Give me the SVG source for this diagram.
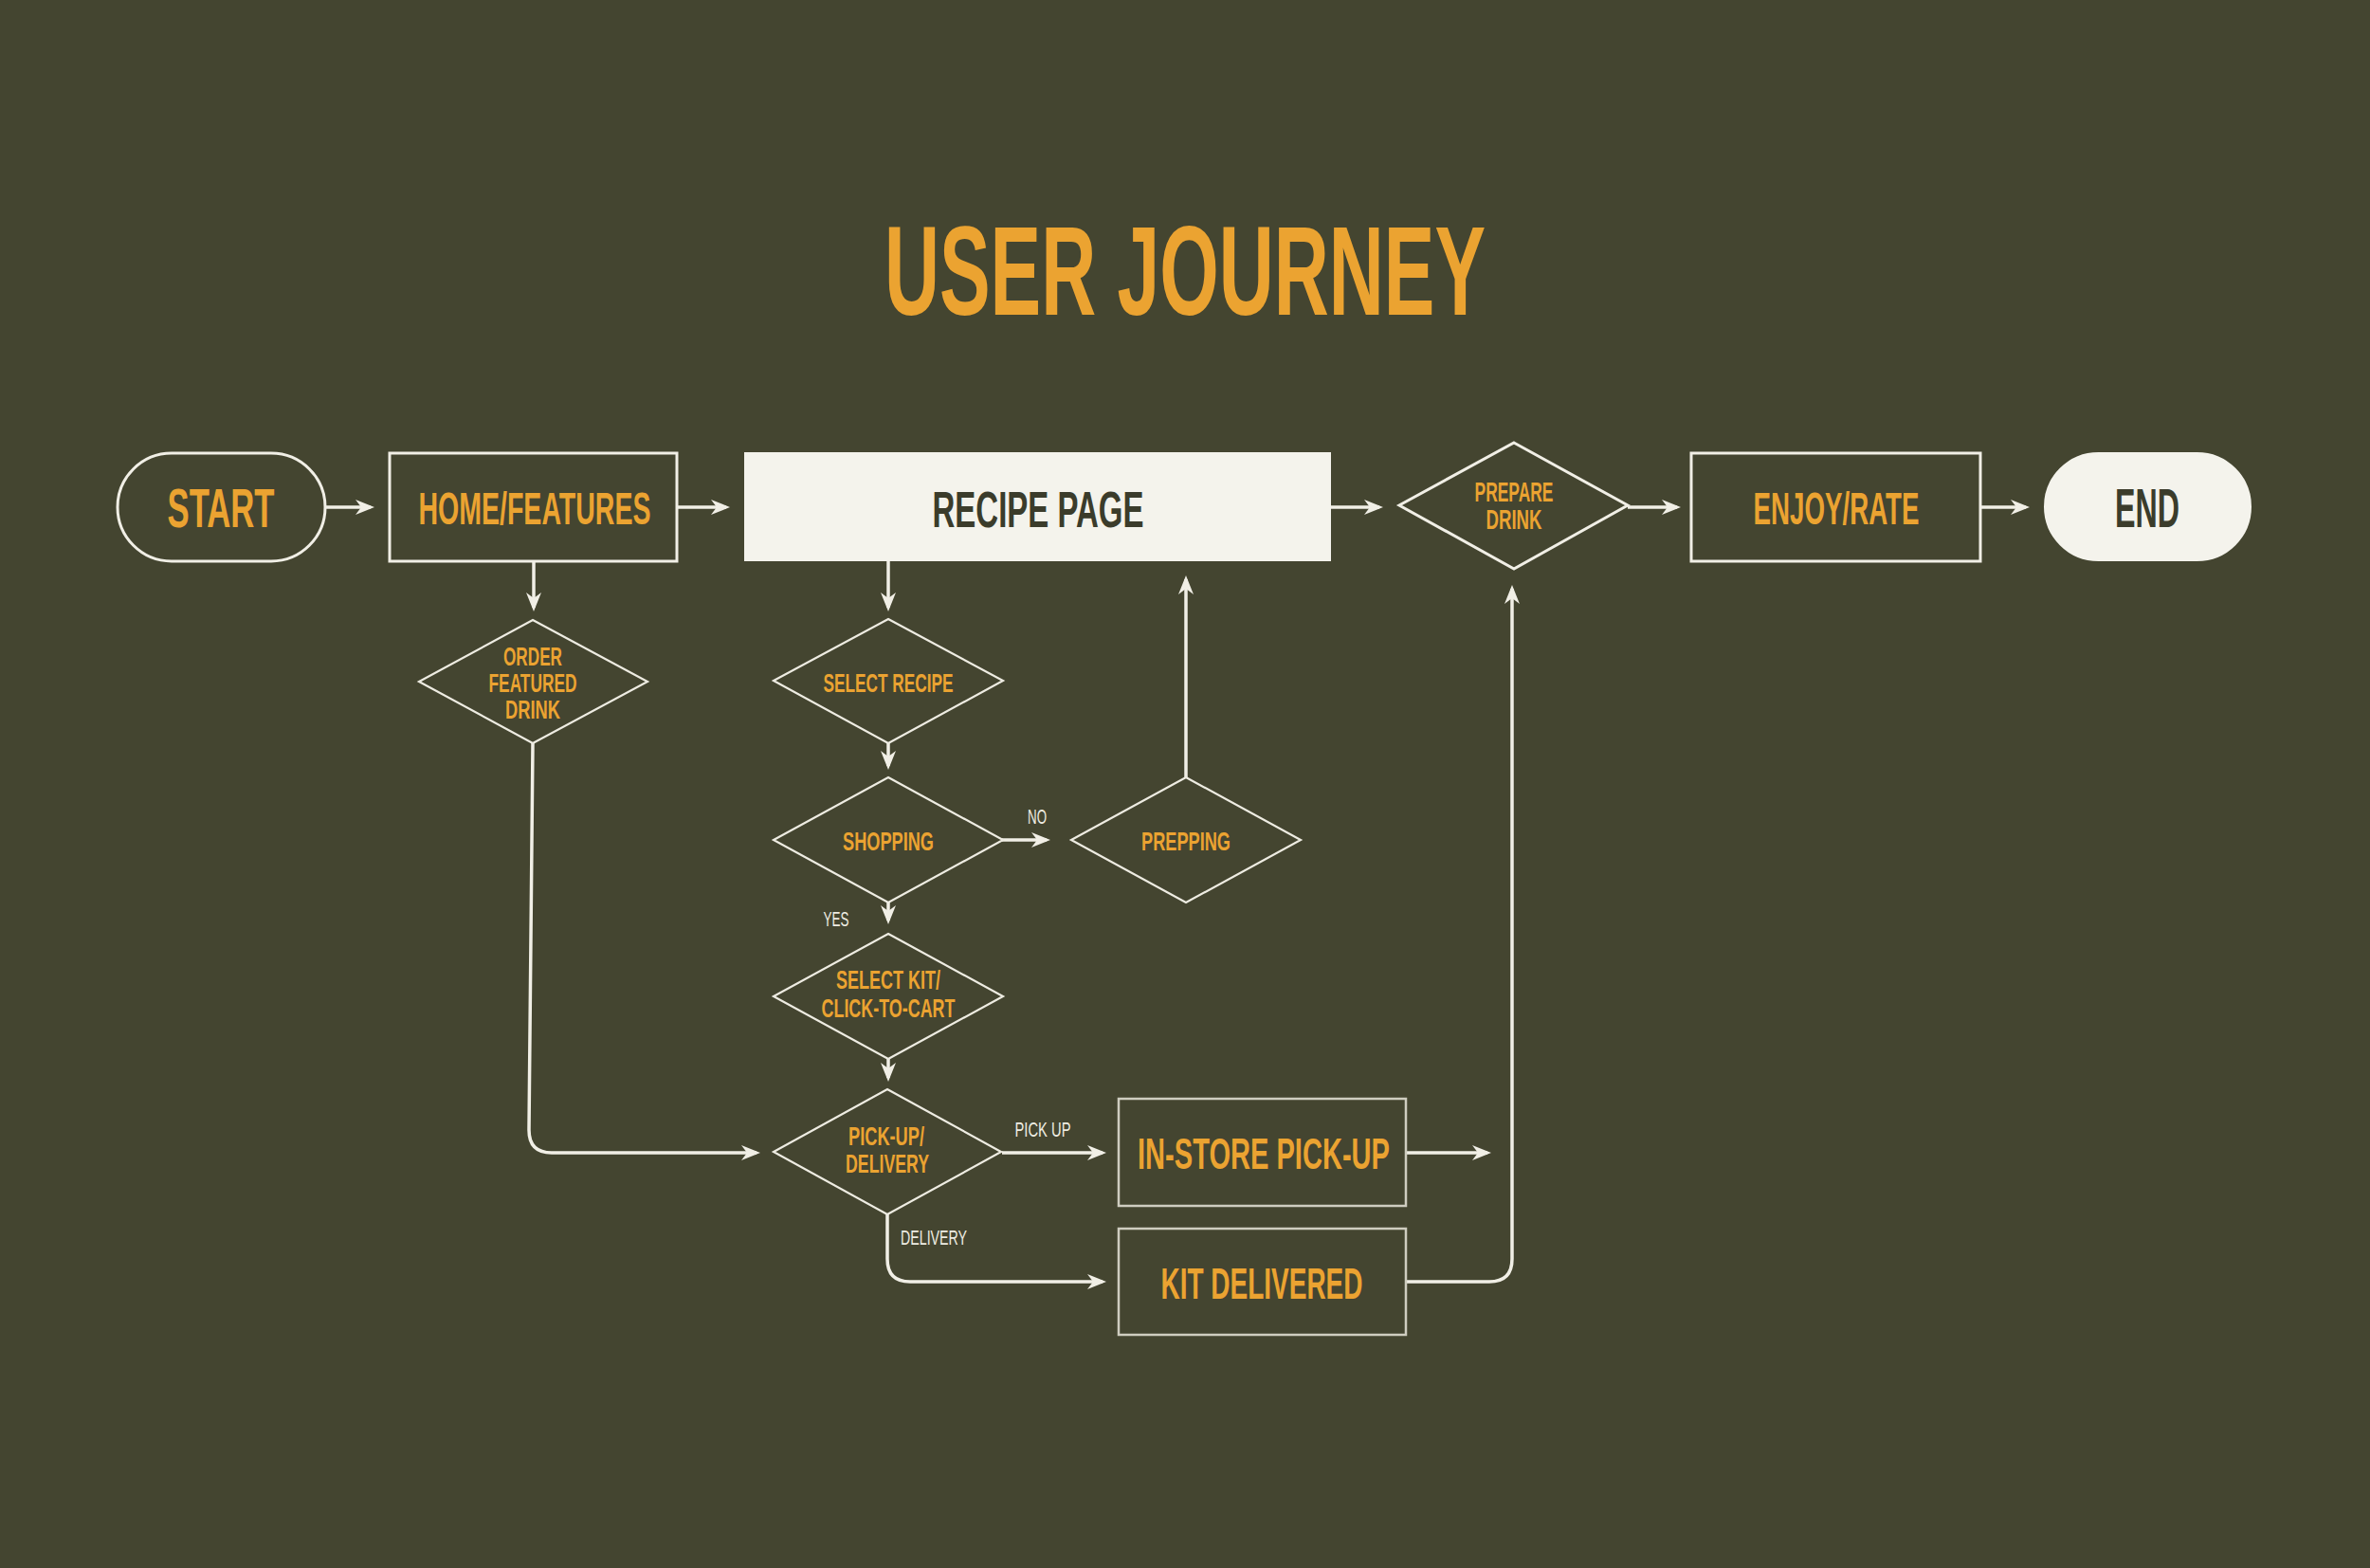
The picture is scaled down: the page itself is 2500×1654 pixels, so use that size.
<svg xmlns="http://www.w3.org/2000/svg" width="2500" height="1654" viewBox="0 0 2500 1654">
<defs>
<style>
.lbl{font-family:"Liberation Sans","Arial",sans-serif;font-weight:bold;fill:#EBA331;text-anchor:middle}
.dark{font-family:"Liberation Sans","Arial",sans-serif;font-weight:bold;fill:#3B3C2B;text-anchor:middle}
.small{font-family:"Liberation Sans","Arial",sans-serif;font-weight:normal;fill:#EEECE2;text-anchor:middle;font-size:22px}
.box{fill:none;stroke:#F1EFE6;stroke-width:3}
.box2{fill:none;stroke:#CFCDC0;stroke-width:2.5}
.dia{fill:none;stroke:#EEECE2;stroke-width:2.2}
.dia3{fill:none;stroke:#F1EFE6;stroke-width:3}
.solid{fill:#F4F3EC;stroke:#F4F3EC;stroke-width:2}
.con{fill:none;stroke:#F1EFE6;stroke-width:3.5;marker-end:url(#ah)}
.con0{fill:none;stroke:#F1EFE6;stroke-width:3.5}
</style>
<marker id="ah" markerUnits="userSpaceOnUse" markerWidth="30" markerHeight="20" refX="20" refY="10" orient="auto" overflow="visible">
<path d="M24,10 L4,2 L10,10 L4,18 Z" fill="#F1EFE6"/>
</marker>
</defs>
<rect x="0" y="0" width="2500" height="1654" fill="#444530"/>

<text id="title" class="lbl" x="1250" y="332" font-size="134" textLength="634" lengthAdjust="spacingAndGlyphs">USER JOURNEY</text>

<g id="connectors">
<path class="con" d="M343,535 L391,535"/>
<path class="con" d="M714,535 L766,535"/>
<path class="con" d="M1403,535 L1455,535"/>
<path class="con" d="M1717,535 L1769,535"/>
<path class="con" d="M2089,535 L2137,535"/>
<path class="con" d="M563,592 L563,641"/>
<path class="con" d="M937,591 L937,641"/>
<path class="con" d="M937,784 L937,808"/>
<path class="con" d="M937,952 L937,971"/>
<path class="con" d="M937,1117 L937,1137"/>
<path class="con" d="M1057,886 L1104,886"/>
<path class="con" d="M1251,820 L1251,611"/>
<path class="con" d="M562,784 L558,1192 Q558,1216 582,1216 L798,1216"/>
<path class="con" d="M1057,1216 L1163,1216"/>
<path class="con" d="M1483,1216 L1569,1216"/>
<path class="con" d="M936,1281 L936,1328 Q936,1352 960,1352 L1163,1352"/>
<path class="con" d="M1483,1352 L1571,1352 Q1595,1352 1595,1328 L1595,621"/>
<text class="small" x="1094" y="869" textLength="20" lengthAdjust="spacingAndGlyphs">NO</text>
<text class="small" x="882" y="977" textLength="27" lengthAdjust="spacingAndGlyphs">YES</text>
<text class="small" x="1100" y="1199" textLength="59" lengthAdjust="spacingAndGlyphs">PICK UP</text>
<text class="small" x="985" y="1313" textLength="70" lengthAdjust="spacingAndGlyphs">DELIVERY</text>
</g>

<g id="start">
<rect class="box" x="124" y="478" width="219" height="114" rx="57" ry="57"/>
<text class="lbl" x="233" y="556" font-size="58" textLength="113" lengthAdjust="spacingAndGlyphs">START</text>
</g>

<g id="home">
<rect class="box" x="411" y="478" width="303" height="114"/>
<text class="lbl" x="564" y="553" font-size="49" textLength="245" lengthAdjust="spacingAndGlyphs">HOME/FEATURES</text>
</g>

<g id="recipe-page">
<rect class="solid" x="786" y="478" width="617" height="113"/>
<text class="dark" x="1095" y="556" font-size="54" textLength="223" lengthAdjust="spacingAndGlyphs">RECIPE PAGE</text>
</g>

<g id="prepare-drink">
<polygon class="dia3" points="1597,467 1717,533 1597,600 1476,533"/>
<text class="lbl" x="1597" y="529" font-size="29" textLength="83" lengthAdjust="spacingAndGlyphs">PREPARE</text>
<text class="lbl" x="1597" y="558" font-size="29" textLength="59" lengthAdjust="spacingAndGlyphs">DRINK</text>
</g>

<g id="enjoy-rate">
<rect class="box" x="1784" y="478" width="305" height="114"/>
<text class="lbl" x="1937" y="553" font-size="49" textLength="175" lengthAdjust="spacingAndGlyphs">ENJOY/RATE</text>
</g>

<g id="end">
<rect class="solid" x="2157" y="478" width="217" height="113" rx="56.5" ry="56.5"/>
<text class="dark" x="2265" y="556" font-size="58" textLength="68" lengthAdjust="spacingAndGlyphs">END</text>
</g>

<g id="order-featured-drink">
<polygon class="dia" points="562,654 683,719 562,784 442,719"/>
<text class="lbl" x="562" y="702" font-size="27" textLength="62" lengthAdjust="spacingAndGlyphs">ORDER</text>
<text class="lbl" x="562" y="730" font-size="27" textLength="93" lengthAdjust="spacingAndGlyphs">FEATURED</text>
<text class="lbl" x="562" y="758" font-size="27" textLength="58" lengthAdjust="spacingAndGlyphs">DRINK</text>
</g>

<g id="select-recipe">
<polygon class="dia" points="937,653 1058,718 937,784 816,718"/>
<text class="lbl" x="937" y="730" font-size="28" textLength="137" lengthAdjust="spacingAndGlyphs">SELECT RECIPE</text>
</g>

<g id="shopping">
<polygon class="dia" points="937,820 1058,886 937,952 816,886"/>
<text class="lbl" x="937" y="897" font-size="28" textLength="96" lengthAdjust="spacingAndGlyphs">SHOPPING</text>
</g>

<g id="prepping">
<polygon class="dia" points="1251,820 1372,886 1251,952 1130,886"/>
<text class="lbl" x="1251" y="897" font-size="28" textLength="94" lengthAdjust="spacingAndGlyphs">PREPPING</text>
</g>

<g id="select-kit">
<polygon class="dia" points="937,985 1058,1051 937,1117 816,1051"/>
<text class="lbl" x="937" y="1043" font-size="28" textLength="110" lengthAdjust="spacingAndGlyphs">SELECT KIT/</text>
<text class="lbl" x="937" y="1073" font-size="28" textLength="141" lengthAdjust="spacingAndGlyphs">CLICK-TO-CART</text>
</g>

<g id="pickup-delivery">
<polygon class="dia" points="936,1149 1056,1215 936,1281 816,1215"/>
<text class="lbl" x="935" y="1208" font-size="28" textLength="80" lengthAdjust="spacingAndGlyphs">PICK-UP/</text>
<text class="lbl" x="936" y="1237" font-size="28" textLength="88" lengthAdjust="spacingAndGlyphs">DELIVERY</text>
</g>

<g id="in-store-pickup">
<rect class="box2" x="1180" y="1159" width="303" height="113"/>
<text class="lbl" x="1333" y="1233" font-size="46" textLength="266" lengthAdjust="spacingAndGlyphs">IN-STORE PICK-UP</text>
</g>

<g id="kit-delivered">
<rect class="box2" x="1180" y="1296" width="303" height="112"/>
<text class="lbl" x="1331" y="1370" font-size="46" textLength="213" lengthAdjust="spacingAndGlyphs">KIT DELIVERED</text>
</g>
</svg>
